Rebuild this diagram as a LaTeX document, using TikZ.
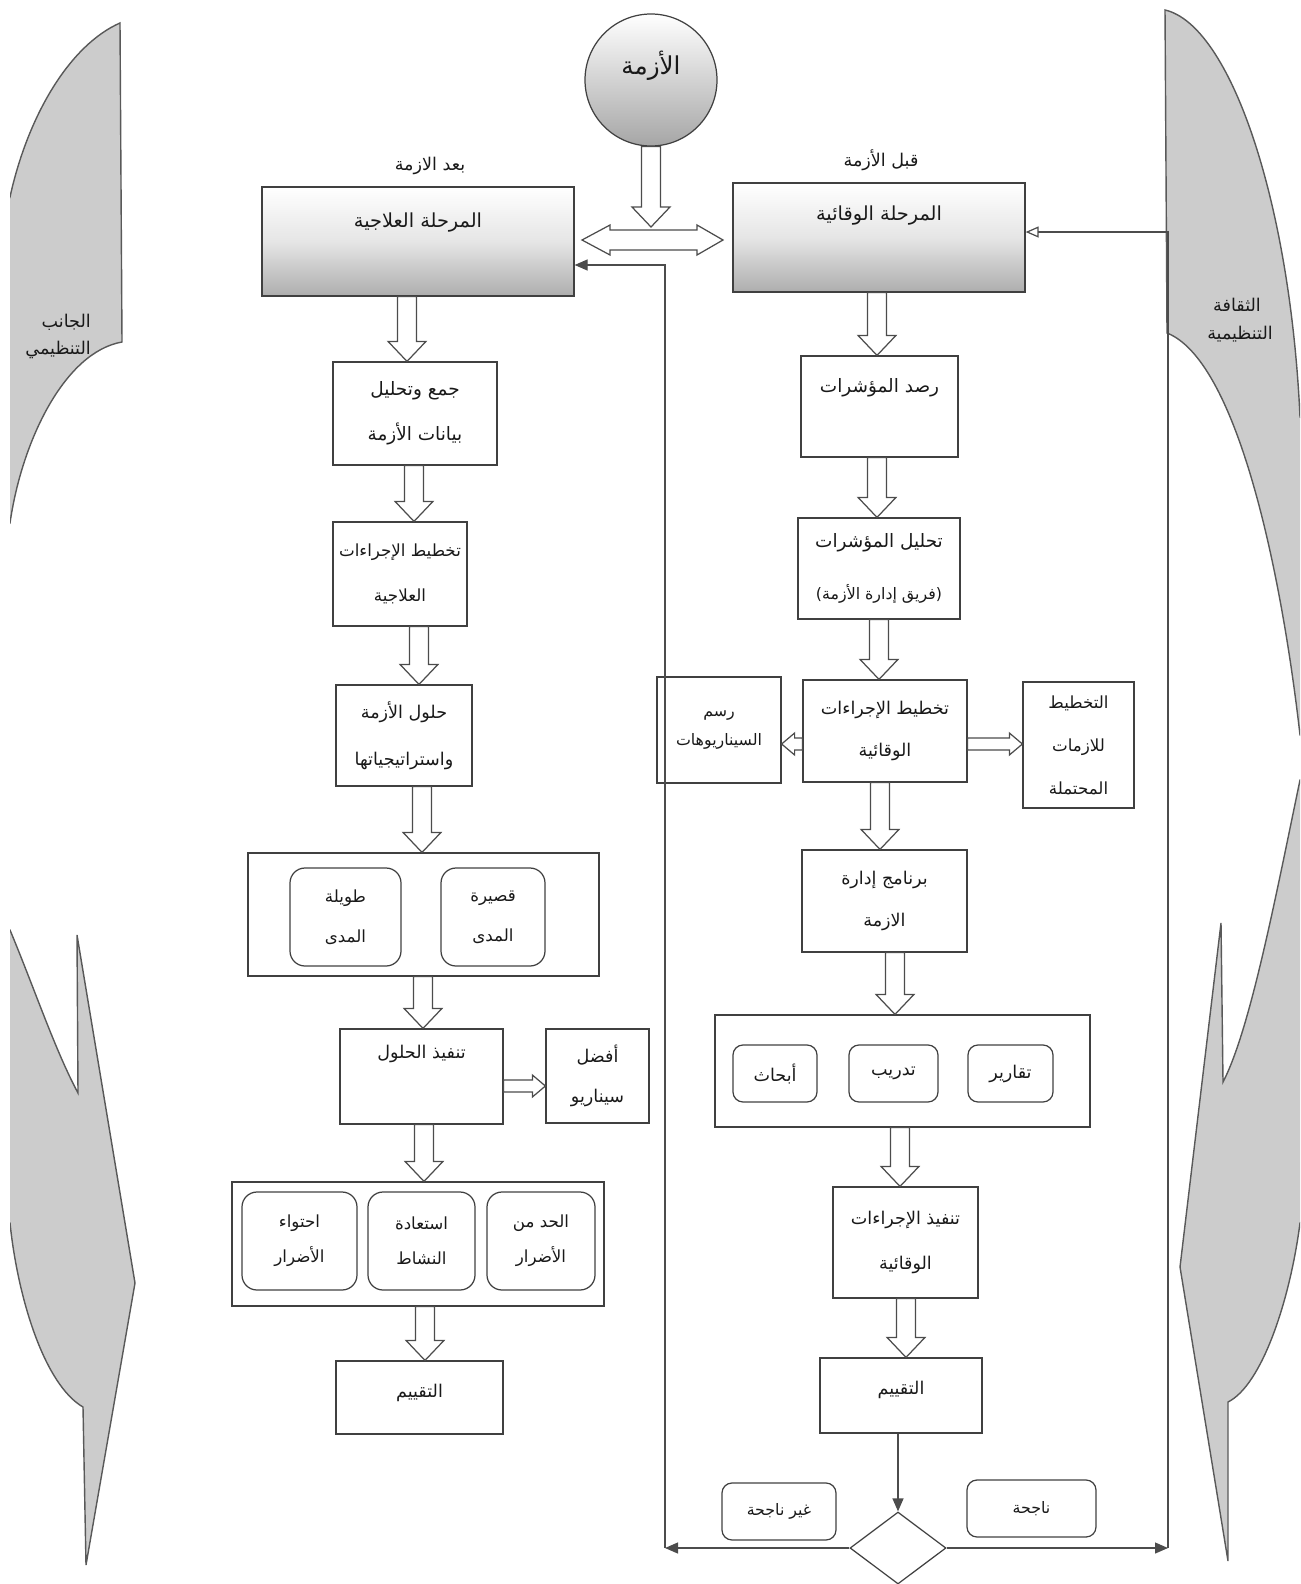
\documentclass[tikz,border=0pt]{standalone}
\usepackage{fontspec}
\newfontfamily\arabicfont[Script=Arabic]{DejaVu Sans}
\TeXXeTstate=1
\usetikzlibrary{arrows.meta,calc,shapes.geometric}
\newcommand{\artxt}[1]{\beginR #1\endR}

\tikzset{
  arrowpoly/.style n args={3}{draw=black!70, fill=white, line width=0.7pt,
    to path={let \p1=($(\tikztotarget)!#3!(\tikztostart)$) in
      ($(\tikztostart)!#1!90:(\tikztotarget)$) -- ($(\p1)!#1!90:(\tikztotarget)$)
      -- ($(\p1)!#2!90:(\tikztotarget)$) -- (\tikztotarget)
      -- ($(\p1)!#2!-90:(\tikztotarget)$) -- ($(\p1)!#1!-90:(\tikztotarget)$)
      -- ($(\tikztostart)!#1!-90:(\tikztotarget)$) -- cycle}},
  bigarrow/.style={arrowpoly={1.9mm}{3.8mm}{4mm}},
  smallarrow/.style={arrowpoly={1.2mm}{2.2mm}{2.6mm}}
}

\begin{document}
\begin{tikzpicture}[x=0.2mm,y=-0.2mm,
  every node/.style={font=\arabicfont\fontsize{10}{12}\selectfont, text=black!90},
  txt/.style 2 args={font=\arabicfont\fontsize{#1}{#2}\selectfont},
  box/.style={draw=black!75, line width=0.7pt, align=center, inner sep=0pt},
  phase/.style={box, top color=white, bottom color=black!32, middle color=black!10, txt={11}{13}},
  item/.style={box, rounded corners=2mm},
  conn/.style={draw=black!70, line width=0.7pt},
  flame/.style={fill=black!20, draw=black!65, line width=0.8pt},
  lift/.style={text height=3mm, text depth=#1}]
 \useasboundingbox (0,0) rectangle (1300,1584);

 % side shapes
 \begin{scope}
  \clip (10,0) rectangle (1300,1584);
  \path[flame] (120,23) .. controls (70,45) and (28,115) .. (10,197) -- (-20,260)
    -- (-20,560) -- (10,523) .. controls (22,440) and (65,352) .. (122,342) -- cycle;
  \path[flame] (-20,900) -- (10,930) .. controls (35,990) and (55,1050) .. (78,1093)
    -- (77,935) -- (135,1283) -- (86,1565) -- (83,1407)
    .. controls (45,1385) and (18,1300) .. (10,1223) -- (-20,1200) -- cycle;
  \path[flame] (1165,10) .. controls (1230,25) and (1290,200) .. (1300,417) -- (1330,440)
    -- (1330,760) -- (1300,735) .. controls (1280,560) and (1235,360) .. (1167,333) -- cycle;
  \path[flame] (1330,760) -- (1300,780) .. controls (1275,900) and (1250,1030) .. (1223,1082)
    -- (1221,923) -- (1180,1267) -- (1228,1561) -- (1228,1402)
    .. controls (1262,1385) and (1290,1300) .. (1300,1223) -- (1330,1200) -- cycle;
 \end{scope}
 \node[anchor=east] (org1) at (97,322) {\artxt{الجانب}};
 \node[anchor=east] (org2) at (97,350) {\artxt{التنظيمي}};
 \node (cul1) at (1237,305) {\artxt{الثقافة}};
 \node (cul2) at (1240,334) {\artxt{التنظيمية}};

 % top
 \node[draw=black!75, line width=0.7pt, circle, minimum size=26.4mm, inner sep=0pt,
   top color=white, bottom color=black!35, txt={14}{16}, lift=5.2mm] (crisis) at (651,80) {\artxt{الأزمة}};
 \node (before) at (881,160) {\artxt{قبل الأزمة}};
 \node (after) at (430,166) {\artxt{بعد الازمة}};
 \node[phase, minimum width=58.4mm, minimum height=21.8mm, lift=9.8mm] (R0) at (879,237.5) {\artxt{المرحلة الوقائية}};
 \node[phase, minimum width=62.4mm, minimum height=21.8mm, lift=8.6mm] (L0) at (418,241.5) {\artxt{المرحلة العلاجية}};

 % right column
 \node[box, minimum width=31.4mm, minimum height=20.2mm, lift=8.6mm, txt={10.5}{12}] (R1) at (879.5,406.5) {\artxt{رصد المؤشرات}};
 \node[box, minimum width=32.4mm, minimum height=20.2mm, txt={10.5}{30}] (R2) at (879,568.5)
   {\artxt{تحليل المؤشرات}\\{\fontsize{9}{30}\selectfont\artxt{(فريق إدارة الأزمة)}}};
 \node[box, minimum width=32.8mm, minimum height=20.4mm, txt={10}{24}] (R3) at (885,731) {\artxt{تخطيط الإجراءات}\\\artxt{الوقائية}};
 \node[box, minimum width=24.8mm, minimum height=21.2mm, txt={9}{17}] (scen) at (719,730) {\artxt{رسم}\\\artxt{السيناريوهات}};
 \node[box, minimum width=22.2mm, minimum height=25.2mm, txt={9.5}{24.5}] (plan) at (1078.5,745) {\artxt{التخطيط}\\\artxt{للازمات}\\\artxt{المحتملة}};
 \node[box, minimum width=33mm, minimum height=20.4mm, txt={10}{24}] (R4) at (884.5,901) {\artxt{برنامج إدارة}\\\artxt{الازمة}};
 \node[box, minimum width=75mm, minimum height=22.4mm] (R5) at (902.5,1071) {};
 \node[item, minimum width=16.8mm, minimum height=11.4mm] (res) at (775,1073.5) {\artxt{أبحاث}};
 \node[item, minimum width=17.8mm, minimum height=11.4mm] (trn) at (893.5,1073.5) {\artxt{تدريب}};
 \node[item, minimum width=17mm, minimum height=11.4mm] (rep) at (1010.5,1073.5) {\artxt{تقارير}};
 \node[box, minimum width=29mm, minimum height=22.2mm, txt={10}{26}] (R6) at (905.5,1242.5) {\artxt{تنفيذ الإجراءات}\\\artxt{الوقائية}};
 \node[box, minimum width=32.4mm, minimum height=15mm, lift=3.4mm] (R7) at (901,1395.5) {\artxt{التقييم}};
 \node[draw=black!75, line width=0.7pt, diamond, minimum width=19.2mm, minimum height=14.4mm, inner sep=0pt] (dia) at (898,1548) {};
 \node[item, minimum width=22.8mm, minimum height=11.4mm, txt={9}{11}] (fail) at (779,1511.5) {\artxt{غير ناجحة}};
 \node[item, minimum width=25.8mm, minimum height=11.4mm, txt={9}{11}] (succ) at (1031.5,1508.5) {\artxt{ناجحة}};

 % left column
 \node[box, minimum width=32.8mm, minimum height=20.6mm, txt={10.5}{25.6}] (L1) at (415,413.5) {\artxt{جمع وتحليل}\\\artxt{بيانات الأزمة}};
 \node[box, minimum width=26.8mm, minimum height=20.8mm, txt={9.5}{25.6}] (L2) at (400,574) {\artxt{تخطيط الإجراءات}\\\artxt{العلاجية}};
 \node[box, minimum width=27.2mm, minimum height=20.2mm, txt={10}{27}] (L3) at (404,735.5) {\artxt{حلول الأزمة}\\\artxt{واستراتيجياتها}};
 \node[box, minimum width=70.2mm, minimum height=24.6mm] (L4) at (423.5,914.5) {};
 \node[item, rounded corners=3mm, minimum width=22.2mm, minimum height=19.6mm, txt={9.5}{23}] (lng) at (345.5,917) {\artxt{طويلة}\\\artxt{المدى}};
 \node[item, rounded corners=3mm, minimum width=20.8mm, minimum height=19.6mm, txt={9.5}{23}] (shr) at (493,917) {\artxt{قصيرة}\\\artxt{المدى}};
 \node[box, minimum width=32.6mm, minimum height=19mm, lift=10.4mm] (L5) at (421.5,1076.5) {\artxt{تنفيذ الحلول}};
 \node[box, minimum width=20.6mm, minimum height=18.8mm, txt={10}{23}] (best) at (597.5,1076) {\artxt{أفضل}\\\artxt{سيناريو}};
 \node[box, minimum width=74.4mm, minimum height=24.8mm] (L6) at (418,1244) {};
 \node[item, rounded corners=3mm, minimum width=23mm, minimum height=19.6mm, txt={9.5}{20}] (cont) at (299.5,1241) {\artxt{احتواء}\\\artxt{الأضرار}};
 \node[item, rounded corners=3mm, minimum width=21.4mm, minimum height=19.6mm, txt={9.5}{20}] (rest) at (421.5,1241) {\artxt{استعادة}\\\artxt{النشاط}};
 \node[item, rounded corners=3mm, minimum width=21.6mm, minimum height=19.6mm, txt={9.5}{20}] (lim) at (541,1241) {\artxt{الحد من}\\\artxt{الأضرار}};
 \node[box, minimum width=33.4mm, minimum height=14.6mm, lift=3mm] (L7) at (419.5,1397.5) {\artxt{التقييم}};

 % block arrows
 \draw[bigarrow] (crisis.south) to (crisis.south |- 0,227);
 \draw[draw=black!70, fill=white, line width=0.7pt] (582,240) -- (610,225) -- (610,230) -- (697,230)
   -- (697,225) -- (723,240) -- (697,255) -- (697,250) -- (610,250) -- (610,255) -- cycle;
 \draw[bigarrow] (L0.south -| 407,0) to (L1.north -| 407,0);
 \draw[bigarrow] (L1.south -| 414,0) to (L2.north -| 414,0);
 \draw[bigarrow] (L2.south -| 419,0) to (L3.north -| 419,0);
 \draw[bigarrow] (L3.south -| 422,0) to (L4.north -| 422,0);
 \draw[bigarrow] (L4.south -| 423,0) to (L5.north -| 423,0);
 \draw[bigarrow] (L5.south -| 424,0) to (L6.north -| 424,0);
 \draw[bigarrow] (L6.south -| 425,0) to (L7.north -| 425,0);
 \draw[smallarrow] (L5.east |- 0,1086) to (best.west |- 0,1086);
 \draw[bigarrow] (R0.south -| 877,0) to (R1.north -| 877,0);
 \draw[bigarrow] (R1.south -| 877,0) to (R2.north -| 877,0);
 \draw[bigarrow] (R2.south -| 879,0) to (R3.north -| 879,0);
 \draw[bigarrow] (R3.south -| 880,0) to (R4.north -| 880,0);
 \draw[bigarrow] (R4.south -| 895,0) to (R5.north -| 895,0);
 \draw[bigarrow] (R5.south -| 900,0) to (R6.north -| 900,0);
 \draw[bigarrow] (R6.south -| 906,0) to (R7.north -| 906,0);
 \draw[smallarrow] (R3.west |- 0,744) to (scen.east |- 0,744);
 \draw[smallarrow] (R3.east |- 0,744) to (plan.west |- 0,744);

 % feedback lines
 \coordinate (cornerL) at (665,1548);
 \coordinate (cornerR) at (1168,1548);
 \draw[conn, -{Triangle[length=2.6mm,width=2.2mm]}] (R7.south -| dia.north) -- (dia.north);
 \draw[conn, -{Triangle[length=2.6mm,width=2.2mm]}] (dia.west) -- (cornerL);
 \draw[conn, -{Triangle[length=2.6mm,width=2.2mm]}] (cornerL) |- (L0.east |- 0,265);
 \draw[conn, -{Triangle[length=2.6mm,width=2.2mm]}] (dia.east) -- (cornerR);
 \draw[conn, -{Triangle[open,length=2.6mm,width=2.2mm]}] (cornerR) |- (R0.east |- 0,232);
\end{tikzpicture}
\end{document}
